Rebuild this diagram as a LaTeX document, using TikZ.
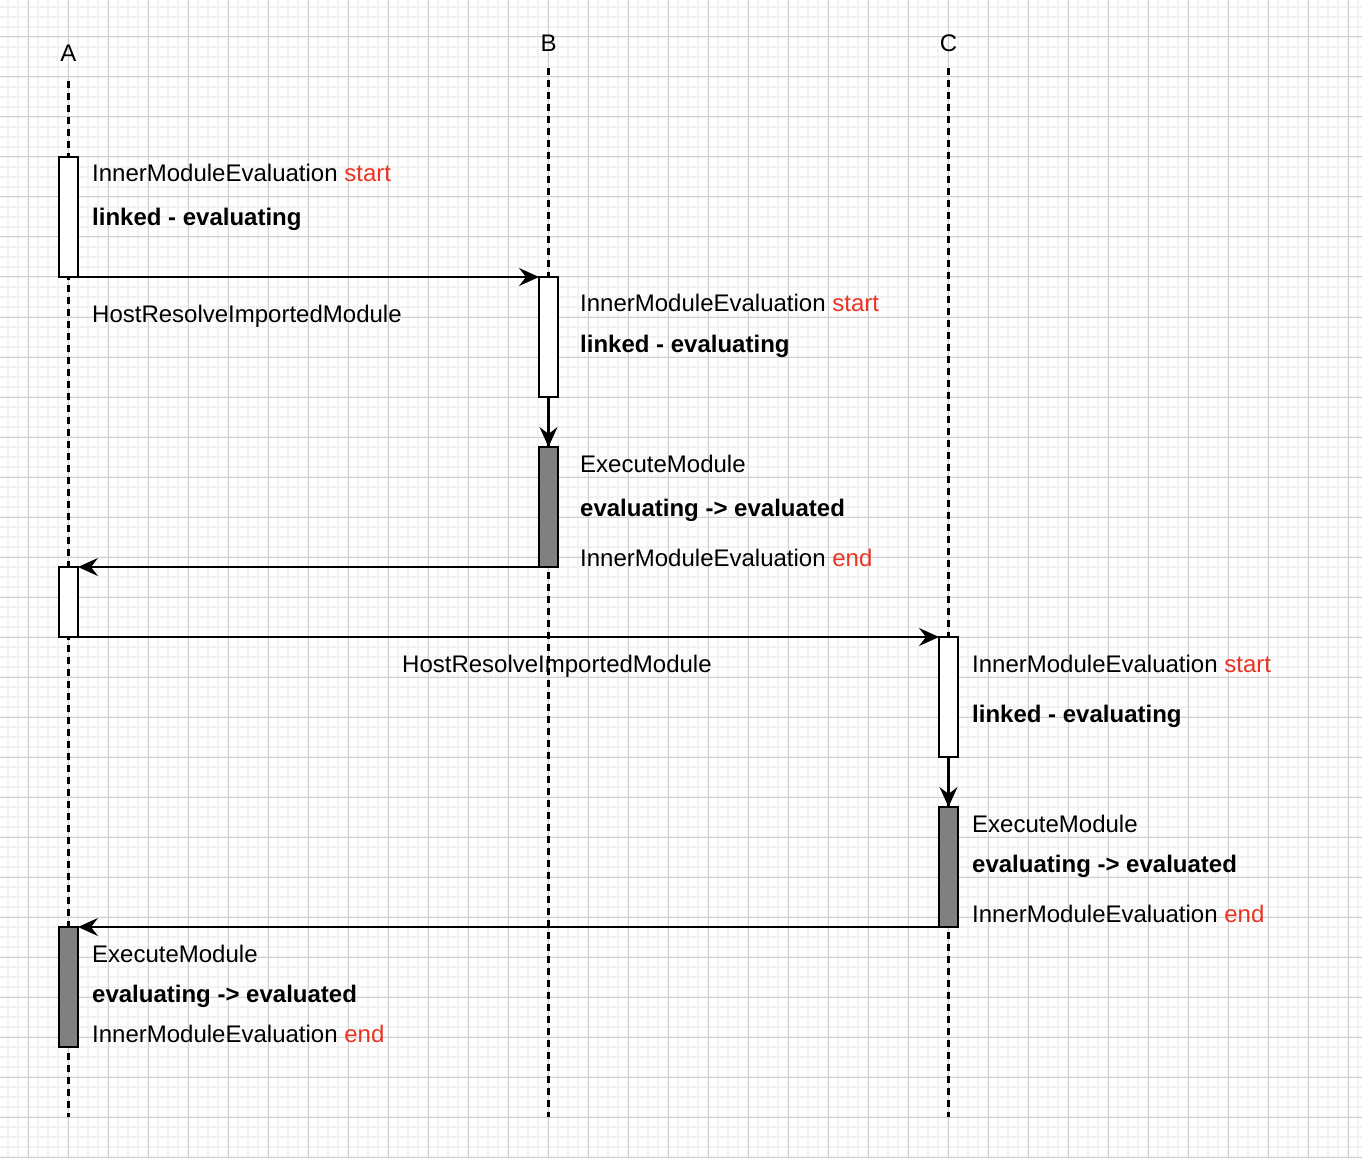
\documentclass[tikz,border=0pt]{standalone}
\usepackage{fontspec}
\setmainfont{Liberation Sans}
\usetikzlibrary{arrows.meta}
\definecolor{gridminor}{HTML}{F2F2F2}
\definecolor{gridmajor}{HTML}{D0D0D0}
\definecolor{redtxt}{RGB}{235,51,36}
\definecolor{actgray}{HTML}{808080}
\tikzset{
  txt/.style={anchor=base west, inner sep=0pt, font=\fontsize{24}{28}\selectfont},
  lbl/.style={anchor=base, inner sep=0pt, font=\fontsize{24}{28}\selectfont},
  life/.style={line width=2.2pt, dash pattern=on 7pt off 5pt},
  actw/.style={draw=black, fill=white, line width=2.2pt, minimum width=19pt, inner sep=0pt, outer sep=0pt},
  actg/.style={actw, fill=actgray},
  msg/.style={line width=2.2pt, -{Stealth[length=20pt 0 0, width=18pt 0 0, inset=7pt 0 0]}},
}
\begin{document}
\begin{tikzpicture}[x=1pt,y=-1pt]
\fill[white] (0,0) rectangle (1362,1158);
\useasboundingbox (0,0) rectangle (1362,1158);
% grid
\foreach \g in {8,18,...,1358} \draw[gridminor, line width=2pt] (\g,0) -- (\g,1158);
\foreach \g in {7,17,...,1157} \draw[gridminor, line width=2pt] (0,\g) -- (1362,\g);
\foreach \g in {28,68,...,1348} \draw[gridmajor, line width=1pt] (\g,0) -- (\g,1158);
\foreach \g in {37,77,...,1157} \draw[gridmajor, line width=1pt] (0,\g) -- (1362,\g);

% lifeline heads
\node[lbl] (hA) at (68.5,62) {A};
\node[lbl] (hB) at (548.5,52) {B};
\node[lbl] (hC) at (948.5,52) {C};
\coordinate (tA) at (68.5,81);
\coordinate (bA) at (68.5,1117);
\coordinate (tB) at (548.5,68);
\coordinate (bB) at (548.5,1117);
\coordinate (tC) at (948.5,68);
\coordinate (bC) at (948.5,1117);
\draw[life] (tA) -- (bA);
\draw[life] (tB) -- (bB);
\draw[life] (tC) -- (bC);

% activation boxes
\node[actw, minimum height=120pt] (a1) at (68.5,217) {};
\node[actw, minimum height=120pt] (b1) at (548.5,337) {};
\node[actg, minimum height=120pt] (b2) at (548.5,507) {};
\node[actw, minimum height=70pt]  (a2) at (68.5,602) {};
\node[actw, minimum height=120pt] (c1) at (948.5,697) {};
\node[actg, minimum height=120pt] (c2) at (948.5,867) {};
\node[actg, minimum height=120pt] (a3) at (68.5,987) {};

% messages
\draw[msg] (a1.south east) -- (b1.north west);
\draw[msg] (b1.south) -- (b2.north);
\draw[msg] (b2.south west) -- (a2.north east);
\draw[msg] (a2.south east) -- (c1.north west);
\draw[msg] (c1.south) -- (c2.north);
\draw[msg] (c2.south west) -- (a3.north east);

% texts A
\node[txt] (t1) at (92,182) {InnerModuleEvaluation \textcolor{redtxt}{start}};
\node[txt] (t2) at (92,226) {\bfseries linked - evaluating};
\node[txt] (t3) at (92,322) {HostResolveImportedModule};
% texts B
\node[txt] (t4) at (580,312) {InnerModuleEvaluation \textcolor{redtxt}{start}};
\node[txt] (t5) at (580,352) {\bfseries linked - evaluating};
\node[txt] (t6) at (580,472) {ExecuteModule};
\node[txt] (t7) at (580,516) {\bfseries evaluating -> evaluated};
\node[txt] (t8) at (580,566) {InnerModuleEvaluation \textcolor{redtxt}{end}};
% second call
\node[txt] (t9) at (402,672) {HostResolveImportedModule};
% texts C
\node[txt] (t10) at (972,672) {InnerModuleEvaluation \textcolor{redtxt}{start}};
\node[txt] (t11) at (972,722) {\bfseries linked - evaluating};
\node[txt] (t12) at (972,832) {ExecuteModule};
\node[txt] (t13) at (972,872) {\bfseries evaluating -> evaluated};
\node[txt] (t14) at (972,922) {InnerModuleEvaluation \textcolor{redtxt}{end}};
% texts A final
\node[txt] (t15) at (92,962) {ExecuteModule};
\node[txt] (t16) at (92,1002) {\bfseries evaluating -> evaluated};
\node[txt] (t17) at (92,1042) {InnerModuleEvaluation \textcolor{redtxt}{end}};
\end{tikzpicture}
\end{document}
